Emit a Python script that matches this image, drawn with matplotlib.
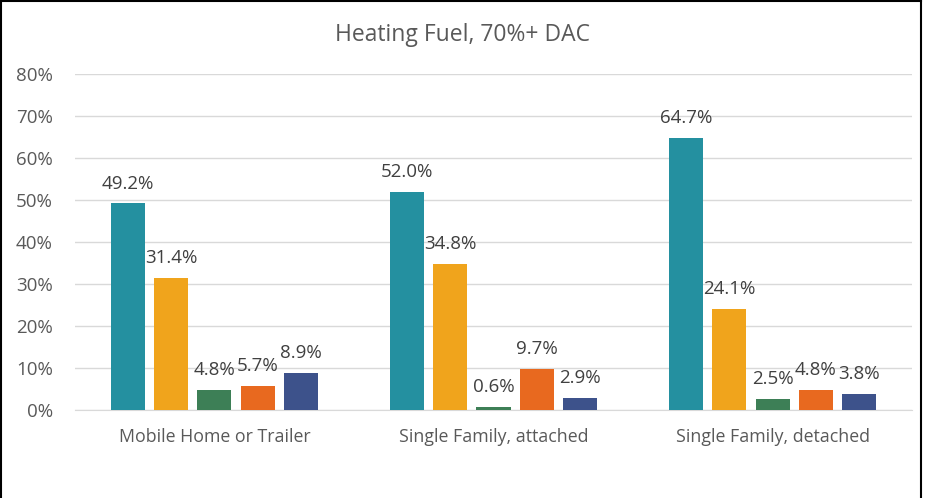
import numpy as np
import matplotlib.pyplot as plt
from matplotlib.lines import Line2D
from matplotlib.ticker import PercentFormatter

# -------------------------------
# Data
# -------------------------------
categories = ["Mobile Home or Trailer", "Single Family, attached", "Single Family, detached"]
fuel_a = [0.492, 0.520, 0.647]
fuel_b = [0.314, 0.348, 0.241]
fuel_c = [0.048, 0.006, 0.025]
fuel_d = [0.057, 0.097, 0.048]
fuel_e = [0.089, 0.029, 0.038]

series = [fuel_a, fuel_b, fuel_c, fuel_d, fuel_e]
colors = ["#2490A0", "#F0A41C", "#3D7F56", "#E8691F", "#3D528B"]

plt.rcParams['font.family'] = ['Open Sans', 'DejaVu Sans']

fig = plt.figure(figsize=(9.25, 4.98), dpi=100)
ax = fig.add_axes([0.081, 0.177, 0.905, 0.674])

x = np.arange(len(categories))
width = 0.122
step = 0.155

for i, (vals, col) in enumerate(zip(series, colors)):
    pos = x + (i - 2) * step
    bars = ax.bar(pos, vals, width=width, color=col, zorder=3)
    for b, v in zip(bars, vals):
        ax.text(b.get_x() + b.get_width() / 2, v + 0.026, f"{v * 100:.1f}%",
                ha="center", va="bottom", fontsize=13.5, color="#404040", zorder=4)

ax.set_xlim(-0.5, 2.5)
ax.set_ylim(0, 0.8)
ax.set_yticks(np.arange(0, 0.81, 0.1))
ax.yaxis.set_major_formatter(PercentFormatter(1.0, decimals=0))
ax.set_xticks(x)
ax.set_xticklabels(categories)
ax.tick_params(axis="both", length=0, labelcolor="#595959")
ax.tick_params(axis="x", pad=13, labelsize=12.8)
ax.tick_params(axis="y", pad=16, labelsize=13.5)

ax.grid(axis="y", color="#D9D9D9", linewidth=1, zorder=0)
for s in ["top", "right", "left"]:
    ax.spines[s].set_visible(False)
ax.spines["bottom"].set_color("#D9D9D9")

fig.text(0.5, 0.93, "Heating Fuel, 70%+ DAC", ha="center", va="center",
         fontsize=16.5, color="#595959")

# frame around the chart (cropped at the bottom)
fig.add_artist(Line2D([0.001, 0.001], [0, 0.998], transform=fig.transFigure, color="black", lw=1.5))
fig.add_artist(Line2D([0.001, 0.996], [0.998, 0.998], transform=fig.transFigure, color="black", lw=1.5))
fig.add_artist(Line2D([0.996, 0.996], [0, 0.998], transform=fig.transFigure, color="black", lw=1.5))

fig.savefig("out.png", dpi=100)
